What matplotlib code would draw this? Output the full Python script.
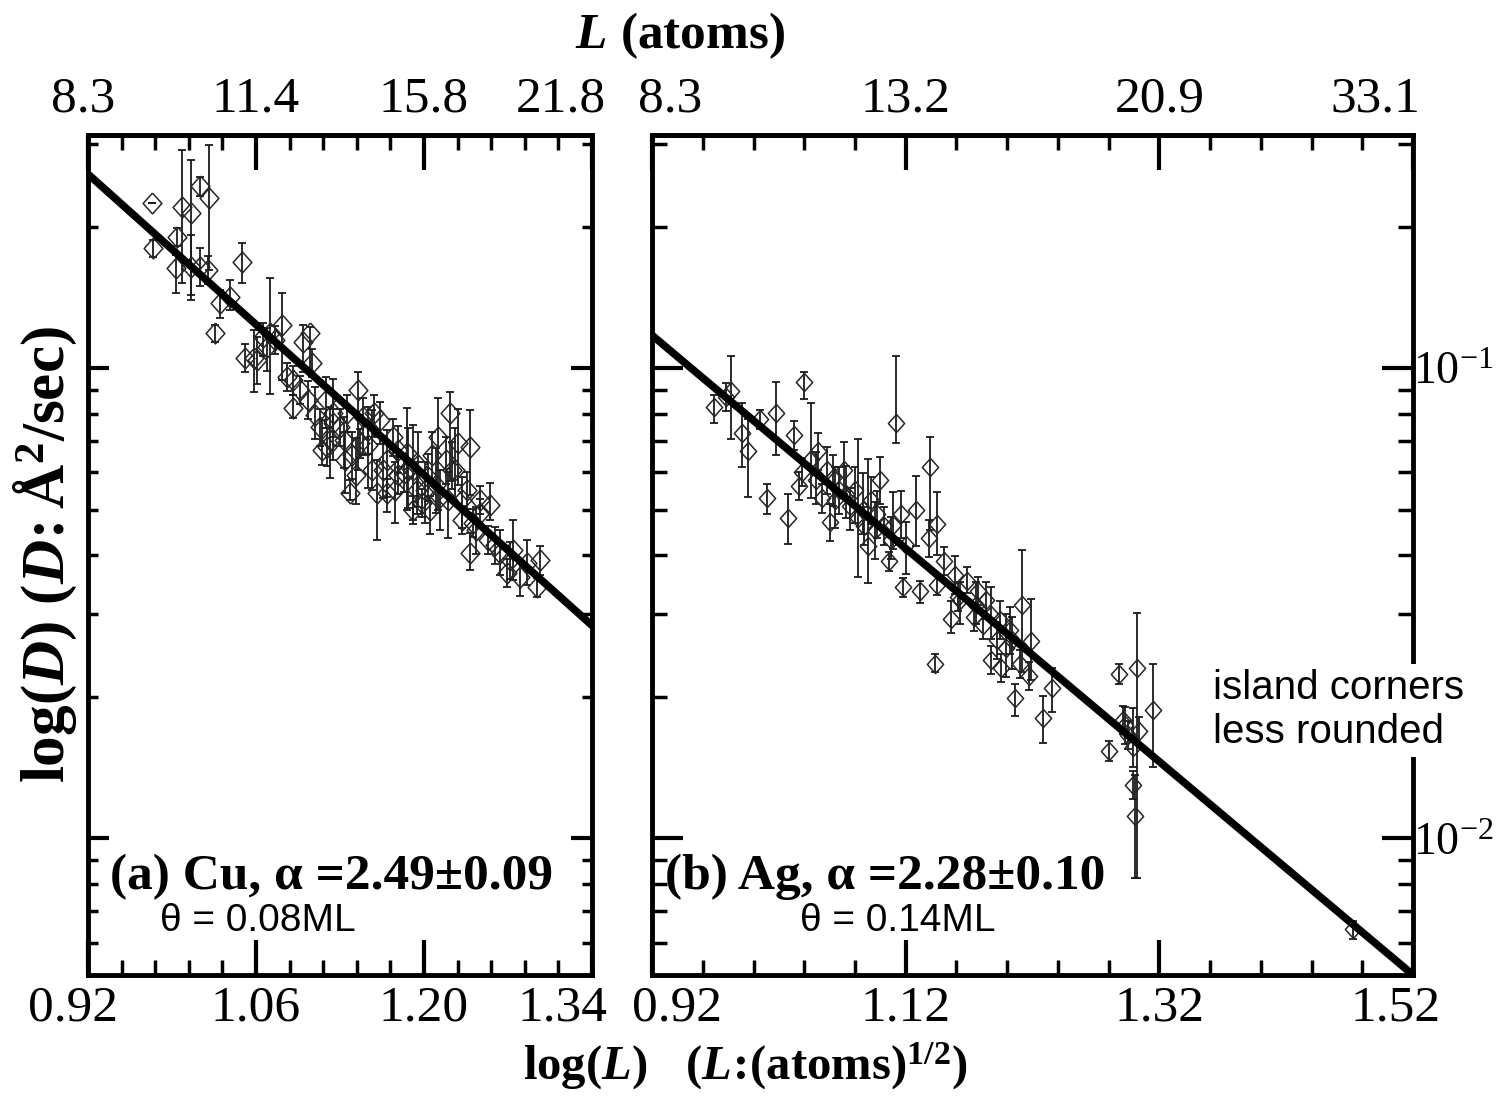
import numpy as np
import matplotlib
matplotlib.use('Agg')
import matplotlib.pyplot as plt
from matplotlib.ticker import FixedLocator, LogLocator, NullFormatter
from matplotlib.transforms import ScaledTranslation

plt.rcParams['font.family'] = ['Liberation Serif', 'DejaVu Serif']
plt.rcParams['mathtext.fontset'] = 'custom'
plt.rcParams['mathtext.rm'] = 'Liberation Serif:bold'
plt.rcParams['mathtext.it'] = 'Liberation Serif:italic:bold'
plt.rcParams['mathtext.bf'] = 'Liberation Serif:bold'
plt.rcParams['mathtext.sf'] = 'Liberation Serif'

# ---- data: log(L), log(D) and error bar extents (decades)
cu_logL = [
    0.973, 0.998, 1.006, 1.013, 1.021,
    0.994, 0.974, 0.993, 1.006, 1.013,
    1.020, 1.048, 1.030, 1.038, 1.026,
    1.072, 1.058, 1.082, 1.076, 1.099,
    1.105, 1.091, 1.091, 1.107, 1.103,
    1.115, 1.124, 1.138, 1.145, 1.124,
    1.136, 1.149, 1.158, 1.163, 1.147,
    1.157, 1.169, 1.178, 1.186, 1.191,
    1.203, 1.183, 1.198, 1.213, 1.212,
    1.222, 1.228, 1.238, 1.236, 1.247,
    1.255, 1.241, 1.238, 1.253, 1.263,
    1.274, 1.286, 1.269, 1.280, 1.247,
    1.205, 1.191, 1.169, 1.161, 1.218,
    1.174, 1.113, 1.119, 1.130, 1.097,
    1.086, 1.066, 1.069, 1.061, 1.051,
    1.207, 1.223, 1.178, 1.140, 1.133,
    1.153, 1.194, 1.232, 1.297, 1.294,
    1.122, 1.134, 1.143, 1.153, 1.166,
    1.176, 1.187, 1.195, 1.201, 1.210,
    1.220, 1.226, 1.232, 1.243, 1.259,
    1.272, 1.118, 1.109,
]
cu_logD = [
    -0.649, -0.657, -0.670, -0.613, -0.638,
    -0.721, -0.745, -0.787, -0.785, -0.785,
    -0.791, -0.774, -0.862, -0.849, -0.926,
    -0.926, -0.979, -0.909, -0.940, -0.945,
    -0.926, -1.026, -1.085, -0.989, -1.068,
    -1.174, -1.117, -1.266, -1.047, -1.096,
    -1.096, -1.104, -1.096, -1.111, -1.160,
    -1.217, -1.196, -1.174, -1.181, -1.217,
    -1.232, -1.223, -1.287, -1.274, -1.147,
    -1.096, -1.160, -1.168, -1.260, -1.281,
    -1.291, -1.330, -1.394, -1.366, -1.394,
    -1.387, -1.415, -1.436, -1.445, -1.309,
    -1.302, -1.302, -1.266, -1.266, -1.196,
    -1.147, -1.126, -1.168, -1.126, -1.047,
    -1.019, -0.934, -0.955, -0.983, -0.979,
    -1.185, -1.217, -1.228, -1.185, -1.153,
    -1.132, -1.260, -1.323, -1.409, -1.466,
    -1.153, -1.196, -1.228, -1.164, -1.217,
    -1.260, -1.217, -1.206, -1.260, -1.249,
    -1.281, -1.217, -1.281, -1.345, -1.377,
    -1.409, -1.068, -1.100,
]
cu_up = [
    0.000, 0.121, 0.113, 0.020, 0.112,
    0.020, 0.018, 0.028, 0.068, 0.040,
    0.030, 0.040, 0.028, 0.036, 0.017,
    0.117, 0.060, 0.068, 0.030, 0.036,
    0.013, 0.030, 0.028, 0.030, 0.040,
    0.064, 0.030, 0.028, 0.038, 0.074,
    0.040, 0.040, 0.040, 0.040, 0.030,
    0.128, 0.064, 0.050, 0.096, 0.096,
    0.050, 0.040, 0.030, 0.057, 0.083,
    0.045, 0.074, 0.079, 0.040, 0.030,
    0.047, 0.030, 0.043, 0.030, 0.049,
    0.064, 0.049, 0.030, 0.030, 0.030,
    0.030, 0.030, 0.030, 0.070, 0.050,
    0.040, 0.040, 0.040, 0.040, 0.030,
    0.030, 0.030, 0.040, 0.050, 0.030,
    0.050, 0.060, 0.040, 0.050, 0.050,
    0.050, 0.060, 0.030, 0.030, 0.020,
    0.070, 0.060, 0.080, 0.050, 0.070,
    0.060, 0.090, 0.070, 0.060, 0.080,
    0.060, 0.090, 0.050, 0.050, 0.040,
    0.040, 0.050, 0.060,
]
cu_dn = [
    0.000, 0.162, 0.175, 0.020, 0.153,
    0.020, 0.018, 0.053, 0.070, 0.040,
    0.030, 0.045, 0.032, 0.028, 0.019,
    0.128, 0.072, 0.117, 0.030, 0.064,
    0.079, 0.030, 0.021, 0.030, 0.040,
    0.032, 0.030, 0.015, 0.170, 0.100,
    0.040, 0.081, 0.050, 0.050, 0.030,
    0.043, 0.079, 0.050, 0.121, 0.106,
    0.050, 0.040, 0.030, 0.070, 0.155,
    0.143, 0.089, 0.102, 0.040, 0.030,
    0.032, 0.030, 0.036, 0.030, 0.047,
    0.064, 0.047, 0.030, 0.040, 0.030,
    0.050, 0.030, 0.040, 0.100, 0.050,
    0.040, 0.040, 0.040, 0.040, 0.030,
    0.030, 0.040, 0.050, 0.050, 0.030,
    0.060, 0.040, 0.040, 0.050, 0.060,
    0.050, 0.050, 0.030, 0.030, 0.020,
    0.080, 0.070, 0.060, 0.090, 0.060,
    0.070, 0.080, 0.090, 0.070, 0.060,
    0.080, 0.070, 0.060, 0.050, 0.040,
    0.040, 0.060, 0.050,
]

ag_logL = [
    0.969, 0.982, 0.991, 0.996, 1.005,
    1.018, 1.011, 1.027, 1.032, 1.040,
    1.038, 1.036, 1.045, 1.051, 1.058,
    1.054, 1.060, 1.067, 1.071, 1.076,
    1.082, 1.087, 1.090, 1.097, 1.103,
    1.107, 1.112, 1.116, 1.128, 1.139,
    1.138, 1.145, 1.118, 1.131, 1.143,
    1.145, 1.150, 1.156, 1.161, 1.168,
    1.177, 1.174, 1.181, 1.187, 1.192,
    1.199, 1.212, 1.219, 1.210, 1.206,
    1.217, 1.228, 1.235, 1.195, 1.288,
    1.302, 1.315, 1.280, 1.295, 1.299,
    1.304, 1.299, 1.301, 1.291, 1.473,
    0.978, 1.063, 1.073, 1.093, 1.108,
    1.159, 1.183, 1.194, 1.202, 1.100,
    1.049, 1.064, 1.080, 1.086, 1.096,
    1.110, 1.120, 1.163, 1.175, 1.187,
    1.204, 1.293,
]
ag_logD = [
    -1.083, -1.049, -1.138, -1.177, -1.109,
    -1.096, -1.277, -1.319, -1.143, -1.030,
    -1.221, -1.251, -1.194, -1.177, -1.217,
    -1.277, -1.328, -1.260, -1.217, -1.294,
    -1.319, -1.336, -1.379, -1.311, -1.336,
    -1.411, -1.117, -1.311, -1.302, -1.211,
    -1.362, -1.332, -1.466, -1.474, -1.630,
    -1.462, -1.411, -1.534, -1.487, -1.453,
    -1.474, -1.530, -1.547, -1.621, -1.579,
    -1.596, -1.504, -1.581, -1.630, -1.702,
    -1.655, -1.745, -1.681, -1.638, -1.651,
    -1.638, -1.728, -1.815, -1.781, -1.806,
    -1.772, -1.887, -1.953, -1.749, -2.194,
    -1.062, -1.234, -1.268, -1.281, -1.366,
    -1.440, -1.494, -1.536, -1.557, -1.238,
    -1.238, -1.281, -1.260, -1.302, -1.345,
    -1.334, -1.377, -1.494, -1.504, -1.526,
    -1.579, -1.760,
]
ag_up = [
    0.026, 0.074, 0.064, 0.068, 0.020,
    0.066, 0.030, 0.051, 0.030, 0.021,
    0.030, 0.030, 0.119, 0.040, 0.050,
    0.030, 0.040, 0.050, 0.060, 0.040,
    0.168, 0.040, 0.185, 0.050, 0.040,
    0.020, 0.143, 0.050, 0.072, 0.064,
    0.040, 0.068, 0.020, 0.021, 0.021,
    0.020, 0.030, 0.038, 0.030, 0.030,
    0.030, 0.030, 0.030, 0.030, 0.040,
    0.074, 0.117, 0.089, 0.030, 0.030,
    0.030, 0.047, 0.043, 0.030, 0.021,
    0.117, 0.098, 0.021, 0.030, 0.083,
    0.030, 0.030, 0.087, 0.030, 0.017,
    0.030, 0.050, 0.060, 0.050, 0.050,
    0.040, 0.040, 0.040, 0.050, 0.050,
    0.060, 0.070, 0.050, 0.080, 0.060,
    0.070, 0.050, 0.040, 0.050, 0.060,
    0.050, 0.040,
]
ag_dn = [
    0.034, 0.102, 0.072, 0.096, 0.020,
    0.089, 0.034, 0.055, 0.030, 0.036,
    0.030, 0.030, 0.083, 0.040, 0.050,
    0.030, 0.040, 0.050, 0.050, 0.050,
    0.126, 0.040, 0.079, 0.050, 0.040,
    0.020, 0.043, 0.050, 0.077, 0.134,
    0.040, 0.066, 0.020, 0.026, 0.017,
    0.020, 0.030, 0.030, 0.030, 0.026,
    0.030, 0.030, 0.030, 0.030, 0.040,
    0.060, 0.143, 0.083, 0.030, 0.038,
    0.030, 0.053, 0.051, 0.030, 0.021,
    0.447, 0.121, 0.021, 0.030, 0.043,
    0.030, 0.030, 0.132, 0.030, 0.021,
    0.030, 0.060, 0.050, 0.050, 0.040,
    0.040, 0.040, 0.040, 0.050, 0.050,
    0.050, 0.060, 0.070, 0.050, 0.060,
    0.050, 0.060, 0.050, 0.040, 0.050,
    0.060, 0.040,
]

# fitted lines: log(D) at the left edge (log L = 0.92) and slope
cu_fit = (-0.587, -2.286)
ag_fit = (-0.930, -2.268)

cu_xticks = [0.92, 1.06, 1.20, 1.34]
cu_xlabels = ['0.92', '1.06', '1.20', '1.34']
cu_toplabels = ['8.3', '11.4', '15.8', '21.8']
ag_xticks = [0.92, 1.12, 1.32, 1.52]
ag_xlabels = ['0.92', '1.12', '1.32', '1.52']
ag_toplabels = ['8.3', '13.2', '20.9', '33.1']
y_ticks = [0.1, 0.01]
y_labels = [r'$\mathsf{10^{-1}}$', r'$\mathsf{10^{-2}}$']
ylim_log = (-2.291, -0.504)

fig = plt.figure(figsize=(14.99, 10.99), dpi=100)
ax_cu = fig.add_axes([0.0587, 0.1128, 0.3362, 0.7643])
ax_ag = fig.add_axes([0.4350, 0.1128, 0.5077, 0.7643])

diamond = [(0, 1), (0.9, 0), (0, -1), (-0.9, 0), (0, 1)]


def shift_labels(labels, offsets_px):
    for lab, dx in zip(labels, offsets_px):
        lab.set_transform(lab.get_transform() + ScaledTranslation(dx / 100.0, 0, fig.dpi_scale_trans))


def panel(ax, logL, logD, up, dn, fit, xticks, xlabels, toplabels, minor_step, ms, ylen):
    logL = np.array(logL)
    logD = np.array(logD)
    D = 10 ** logD
    lo = D - 10 ** (logD - np.array(dn))
    hi = 10 ** (logD + np.array(up)) - D
    ax.errorbar(logL, D, yerr=[lo, hi], fmt='none', ecolor='0.1',
                elinewidth=1.3, capsize=3, capthick=1.3, zorder=2)
    ax.plot(logL, D, ls='none', marker=diamond, ms=ms, mfc='none',
            mec='0.15', mew=1.1, zorder=3)
    xx = np.array([xticks[0], xticks[-1]])
    ax.plot(xx, 10 ** (fit[0] + fit[1] * (xx - xticks[0])), color='k', lw=5.5, zorder=4)

    ax.set_yscale('log')
    ax.set_xlim(xticks[0], xticks[-1])
    ax.set_ylim(10 ** ylim_log[0], 10 ** ylim_log[1])
    ax.yaxis.set_major_locator(FixedLocator(y_ticks))
    ax.yaxis.set_minor_locator(LogLocator(base=10, subs=np.arange(2, 10), numticks=20))
    ax.yaxis.set_minor_formatter(NullFormatter())

    minors = np.arange(xticks[0], xticks[-1] + 1e-6, minor_step)
    ax.set_xticks(xticks, labels=xlabels)
    ax.set_xticks(minors, minor=True)
    ax.tick_params(axis='x', which='both', direction='in', top=False, bottom=True,
                   labelsize=37, pad=7)
    ax.tick_params(axis='x', which='major', length=25, width=3)
    ax.tick_params(axis='x', which='minor', length=11, width=2.5)
    ax.tick_params(axis='y', which='both', direction='in', left=True, right=True,
                   labelleft=False, labelright=False, labelsize=33)
    ax.tick_params(axis='y', which='major', length=ylen, width=3)
    ax.tick_params(axis='y', which='minor', length=ylen / 2, width=2.5)
    for s in ax.spines.values():
        s.set_linewidth(3.5)

    sec = ax.secondary_xaxis('top')
    sec.set_xticks(xticks, labels=toplabels)
    sec.set_xticks(minors, minor=True)
    sec.tick_params(which='both', direction='in', labelsize=37, pad=9)
    sec.tick_params(which='major', length=25, width=3)
    sec.tick_params(which='minor', length=11, width=2.5)
    sec.spines['top'].set_linewidth(3.5)
    return sec


sec_cu = panel(ax_cu, cu_logL, cu_logD, cu_up, cu_dn, cu_fit, cu_xticks, cu_xlabels,
               cu_toplabels, 0.028, 15, 15)
sec_ag = panel(ax_ag, ag_logL, ag_logD, ag_up, ag_dn, ag_fit, ag_xticks, ag_xlabels,
               ag_toplabels, 0.04, 13, 22)

ax_ag.set_yticks(y_ticks, labels=y_labels)
ax_ag.tick_params(axis='y', which='both', labelright=True, pad=0)

shift_labels(ax_cu.xaxis.get_majorticklabels(), [-15, 0, 0, -30])
shift_labels(sec_cu.xaxis.get_majorticklabels(), [-5, 0, 0, -31])
shift_labels(ax_ag.xaxis.get_majorticklabels(), [25, 0, 0, -18])
shift_labels(sec_ag.xaxis.get_majorticklabels(), [18, 0, 0, -38])

ax_cu.text(0.044, 0.117, '(a) Cu, α =2.49±0.09', transform=ax_cu.transAxes,
           fontsize=37, fontweight='bold', ha='left', va='center', zorder=6)
ax_cu.text(0.143, 0.064, 'θ = 0.08ML', transform=ax_cu.transAxes,
           family=['Liberation Sans', 'DejaVu Sans'], fontsize=28, ha='left', va='center', zorder=6)
ax_ag.text(0.017, 0.117, '(b) Ag, α =2.28±0.10', transform=ax_ag.transAxes,
           fontsize=37, fontweight='bold', ha='left', va='center', zorder=6)
ax_ag.text(0.195, 0.064, 'θ = 0.14ML', transform=ax_ag.transAxes,
           family=['Liberation Sans', 'DejaVu Sans'], fontsize=28, ha='left', va='center', zorder=6)
ax_ag.text(0.737, 0.315, 'island corners\nless rounded', transform=ax_ag.transAxes,
           family=['Liberation Sans', 'DejaVu Sans'], fontsize=29, ha='left', va='center',
           linespacing=1.2, clip_on=False, zorder=10,
           bbox=dict(facecolor='white', edgecolor='none', pad=4))

fig.text(0.030, 0.495, r'$\mathrm{log(}D\mathrm{)\ (}D\!:\mathrm{Å^{2}/sec)}$',
         rotation=90, ha='center', va='center', fontsize=44)
fig.text(0.4537, 0.968, r'$L\ \mathrm{(atoms)}$', ha='center', va='center', fontsize=37)
fig.text(0.497, 0.030, r'$\mathrm{log(}L\mathrm{)}\quad\mathrm{(}L\!:\!\mathrm{(atoms)}^{1/2}\mathrm{)}$',
         ha='center', va='center', fontsize=35)

fig.savefig('out.png', dpi=100)
